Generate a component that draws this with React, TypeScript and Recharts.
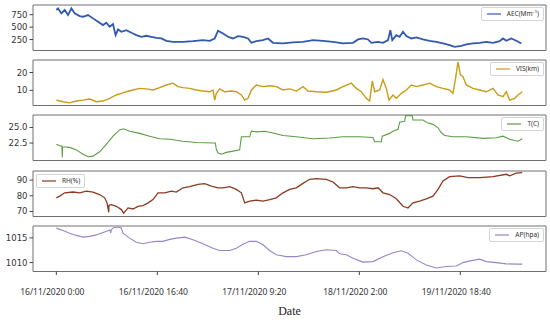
import React from "react";
import { LineChart, Line, XAxis, YAxis, Legend, ReferenceArea } from "recharts";

// x is the row index of the series (pandas style plot), ticks every 1000 rows
const DATE_TICKS = [0, 1000, 2000, 3000, 4000];
const DATE_LABELS = ["16/11/2020 0:00", "16/11/2020 16:40", "17/11/2020 9:20", "18/11/2020 2:00", "19/11/2020 18:40"];
const X_DOMAIN: [number, number] = [-231, 4848];

const AEC: [number, number][] = [
  [0, 844], [17, 877], [50, 776], [83, 844], [116, 743], [149, 877], [182, 776], [231, 723], [264, 709], [314, 743],
  [363, 676], [413, 608], [462, 541], [495, 588], [528, 508], [561, 561], [587, 340], [611, 454], [644, 407], [693, 440],
  [743, 387], [792, 340], [842, 306], [891, 326], [941, 306], [990, 286], [1040, 272], [1089, 225], [1155, 205], [1254, 205],
  [1353, 219], [1452, 239], [1518, 225], [1568, 272], [1601, 427], [1650, 373], [1700, 306], [1749, 272], [1799, 320], [1848, 306],
  [1898, 272], [1931, 185], [1980, 219], [2046, 239], [2096, 272], [2145, 185], [2244, 172], [2343, 192], [2442, 205], [2541, 239],
  [2640, 225], [2739, 205], [2838, 172], [2937, 185], [2987, 252], [3036, 272], [3086, 252], [3119, 185], [3185, 205], [3234, 185],
  [3284, 239], [3307, 440], [3326, 239], [3366, 340], [3399, 306], [3432, 407], [3465, 320], [3515, 272], [3564, 293], [3630, 252],
  [3696, 225], [3762, 205], [3828, 172], [3894, 138], [3944, 104], [4010, 125], [4059, 151], [4125, 172], [4191, 185], [4257, 205],
  [4323, 185], [4389, 219], [4422, 272], [4455, 225], [4505, 272], [4554, 225], [4604, 172],
];

const VIS: [number, number][] = [
  [0, 4.5], [66, 3.6], [132, 3.0], [198, 4.0], [264, 4.5], [330, 5.1], [396, 3.6], [462, 4.0], [528, 5.5], [594, 7.4],
  [644, 8.3], [693, 9.2], [759, 10.2], [825, 11.1], [891, 10.8], [957, 10.2], [1023, 11.5], [1089, 13.0], [1155, 14.0], [1205, 12.1],
  [1254, 11.5], [1320, 11.1], [1386, 10.2], [1452, 9.6], [1518, 9.2], [1551, 10.2], [1568, 4.5], [1584, 8.3], [1617, 10.8], [1667, 9.2],
  [1733, 9.6], [1782, 9.2], [1832, 7.4], [1865, 4.5], [1898, 5.5], [1931, 10.2], [1980, 13.0], [2046, 12.1], [2112, 12.6], [2178, 12.1],
  [2244, 10.2], [2310, 10.8], [2376, 9.6], [2442, 12.1], [2492, 9.6], [2574, 9.2], [2673, 8.9], [2772, 10.2], [2838, 12.1], [2921, 14.0],
  [2970, 11.1], [3020, 9.2], [3069, 5.5], [3102, 4.0], [3128, 15.2], [3152, 9.2], [3201, 10.2], [3234, 16.0], [3267, 11.1], [3293, 4.5],
  [3333, 7.4], [3366, 5.5], [3416, 8.3], [3465, 10.2], [3515, 13.0], [3564, 12.1], [3630, 13.0], [3696, 14.0], [3762, 12.1], [3828, 11.1],
  [3894, 10.2], [3927, 8.3], [3953, 16.8], [3977, 26.0], [4000, 18.7], [4026, 17.7], [4059, 13.0], [4125, 11.1], [4191, 10.2], [4257, 9.2],
  [4323, 11.1], [4373, 7.4], [4422, 6.4], [4455, 9.2], [4488, 4.5], [4538, 5.5], [4571, 7.4], [4613, 9.2],
];

const TEMP: [number, number][] = [
  [0, 22.3], [50, 22.0], [56, 22.0], [59, 20.2], [62, 21.9], [132, 21.8], [198, 21.4], [264, 20.7], [314, 20.3], [363, 20.4],
  [429, 21.1], [495, 22.3], [561, 23.6], [627, 24.6], [667, 24.8], [726, 24.4], [825, 24.05], [924, 23.6], [1023, 23.2], [1122, 23.1],
  [1254, 22.8], [1386, 22.6], [1551, 22.5], [1574, 22.5], [1584, 21.5], [1601, 20.9], [1634, 20.7], [1683, 21.0], [1749, 21.2], [1815, 21.4],
  [1832, 23.5], [1914, 23.5], [1931, 24.4], [1980, 24.3], [2063, 24.4], [2145, 24.1], [2244, 23.7], [2376, 23.5], [2541, 23.2], [2706, 23.3],
  [2838, 23.5], [3003, 23.5], [3135, 23.4], [3152, 22.7], [3218, 22.7], [3227, 23.6], [3300, 24.05], [3333, 24.4], [3383, 24.7], [3399, 25.85],
  [3449, 26.0], [3458, 26.9], [3524, 26.9], [3531, 26.2], [3630, 26.2], [3680, 25.7], [3729, 25.5], [3779, 24.95], [3812, 24.15], [3845, 23.7],
  [3927, 23.5], [4059, 23.5], [4224, 23.25], [4356, 23.35], [4422, 23.6], [4488, 23.1], [4571, 22.8], [4613, 23.2],
];

const RH: [number, number][] = [
  [0, 78.7], [33, 79.8], [83, 81.9], [165, 82.4], [231, 81.9], [297, 83.0], [363, 82.4], [429, 80.8], [479, 78.7], [502, 75.5],
  [519, 69.5], [521, 74.0], [545, 74.4], [594, 73.3], [644, 71.2], [667, 69.0], [710, 72.3], [759, 71.6], [809, 73.3], [858, 73.8],
  [908, 75.5], [957, 77.6], [1007, 81.9], [1073, 81.9], [1139, 83.0], [1188, 82.4], [1254, 85.1], [1320, 85.8], [1403, 87.3], [1469, 87.7],
  [1535, 86.2], [1601, 85.1], [1650, 85.1], [1716, 85.8], [1782, 84.1], [1832, 81.9], [1865, 75.5], [1914, 76.6], [1980, 77.2], [2046, 76.6],
  [2112, 77.6], [2178, 78.7], [2244, 81.9], [2310, 84.1], [2376, 85.1], [2442, 87.9], [2508, 90.5], [2574, 91.0], [2673, 90.5], [2739, 88.8],
  [2805, 85.1], [2871, 85.1], [2937, 85.8], [3003, 85.1], [3069, 85.1], [3135, 84.5], [3185, 85.1], [3234, 81.9], [3300, 80.8], [3366, 78.1],
  [3432, 73.3], [3482, 72.2], [3531, 75.5], [3597, 76.6], [3663, 78.1], [3729, 79.8], [3779, 84.1], [3828, 89.4], [3894, 92.2], [3993, 92.7],
  [4076, 91.6], [4191, 91.6], [4323, 92.2], [4455, 93.7], [4488, 92.7], [4554, 94.4], [4613, 94.8],
];

const AP: [number, number][] = [
  [0, 1016.97], [66, 1016.5], [132, 1015.95], [198, 1015.5], [264, 1015.15], [330, 1015.3], [396, 1015.6], [462, 1016.1], [531, 1016.6], [538, 1016.0],
  [545, 1016.6], [561, 1017.0], [611, 1017.2], [644, 1017.0], [660, 1015.95], [726, 1014.95], [792, 1014.1], [858, 1013.8], [924, 1014.1], [990, 1014.3],
  [1056, 1014.3], [1122, 1014.7], [1188, 1014.95], [1271, 1015.15], [1353, 1014.6], [1452, 1013.8], [1551, 1012.9], [1617, 1012.45], [1716, 1012.45], [1782, 1012.9],
  [1848, 1013.7], [1914, 1014.3], [1980, 1014.3], [2046, 1013.6], [2112, 1012.45], [2178, 1011.6], [2277, 1011.2], [2376, 1011.2], [2475, 1011.6], [2574, 1012.25],
  [2673, 1012.6], [2772, 1012.45], [2805, 1011.8], [2871, 1011.6], [2937, 1010.9], [3036, 1010.1], [3135, 1010.2], [3234, 1011.2], [3333, 1012.0], [3416, 1012.4],
  [3482, 1011.9], [3564, 1010.55], [3663, 1009.5], [3762, 1008.9], [3861, 1009.2], [3960, 1009.3], [4026, 1010.0], [4109, 1010.4], [4191, 1010.7], [4257, 1010.2],
  [4356, 1010.0], [4455, 1009.75], [4554, 1009.7], [4613, 1009.7],
];

const PLOT_H = 45.5;
const FONT = "'DejaVu Sans', sans-serif";

const PANELS = [
  { name: "AEC(Mm⁻¹)", rows: AEC, color: "#3159b0", width: 1.8, domain: [30, 945], ticks: [250, 500, 750], top: 5, legendLeft: false, fmt: (v: number) => `${v}` },
  { name: "VIS(km)", rows: VIS, color: "#c99c16", width: 1.4, domain: [1.5, 27], ticks: [10, 20], top: 60, legendLeft: false, fmt: (v: number) => `${v}` },
  { name: "T(C)", rows: TEMP, color: "#5a9d45", width: 1.1, domain: [19.7, 27.0], ticks: [22.5, 25.0], top: 115, legendLeft: false, fmt: (v: number) => v.toFixed(1) },
  { name: "RH(%)", rows: RH, color: "#8c3b20", width: 1.3, domain: [66.8, 95.8], ticks: [70, 80, 90], top: 170.5, legendLeft: true, fmt: (v: number) => `${v}` },
  { name: "AP(hpa)", rows: AP, color: "#9884cc", width: 1.1, domain: [1008.2, 1017.4], ticks: [1010, 1015], top: 225.5, legendLeft: false, fmt: (v: number) => `${v}` },
];

function LegendBox({ name, color }: { name: string; color: string }) {
  return (
    <div
      style={{
        display: "flex",
        alignItems: "center",
        border: "1px solid #d4d4d4",
        borderRadius: 2,
        background: "rgba(255,255,255,0.9)",
        padding: "2px 4px 2px 5px",
        fontFamily: "'Noto Sans', sans-serif",
        fontSize: 6.5,
        lineHeight: "8px",
        color: "#333",
        whiteSpace: "nowrap",
      }}
    >
      <svg width={14} height={4} style={{ marginRight: 6 }}>
        <line x1={0} y1={2} x2={14} y2={2} stroke={color} strokeWidth={1.2} />
      </svg>
      {name}
    </div>
  );
}

function DateTick({ x, y, payload }: any) {
  return (
    <text x={x - 4} y={y} dy="0.71em" textAnchor="middle" fontSize={8.5} fontFamily="'Noto Sans', sans-serif" fill="#333">
      {DATE_LABELS[DATE_TICKS.indexOf(payload.value)]}
    </text>
  );
}

function Panel({ p, last }: { p: (typeof PANELS)[number]; last: boolean }) {
  const axisH = last ? 323 - (p.top - 5) - 5 - PLOT_H : 8;
  const data = p.rows.map(([i, v]) => ({ i, v }));
  return (
    <div style={{ position: "absolute", left: 0, top: p.top - 5 }}>
      <LineChart width={550} height={5 + PLOT_H + axisH} margin={{ top: 5, right: 4, left: 0, bottom: 0 }}>
        <XAxis
          type="number"
          dataKey="i"
          domain={X_DOMAIN}
          ticks={DATE_TICKS}
          interval={0}
          allowDataOverflow
          height={axisH}
          axisLine={false}
          tickSize={3.5}
          tickMargin={14}
          tickLine={{ stroke: "#444" }}
          tick={last ? <DateTick /> : false}
          label={
            last
              ? { value: "Date", position: "insideBottom", offset: 9, fontFamily: "'Liberation Serif', serif", fontSize: 12, fill: "#222" }
              : undefined
          }
        />
        <YAxis
          type="number"
          domain={p.domain}
          ticks={p.ticks}
          interval={0}
          allowDataOverflow
          width={33}
          axisLine={false}
          tickSize={3.5}
          tickMargin={2}
          tickLine={{ stroke: "#444" }}
          tick={{ fontSize: 8.5, fill: "#333", fontFamily: FONT }}
          tickFormatter={p.fmt}
        />
        <Line data={data} dataKey="v" type="linear" stroke={p.color} strokeWidth={p.width} dot={false} isAnimationActive={false} />
        <ReferenceArea
          x1={X_DOMAIN[0]}
          x2={X_DOMAIN[1]}
          y1={p.domain[0]}
          y2={p.domain[1]}
          fill="none"
          fillOpacity={0}
          stroke="#707070"
          strokeWidth={1}
          ifOverflow="visible"
        />
        <Legend
          layout="vertical"
          align="center"
          verticalAlign="middle"
          content={() => <LegendBox name={p.name} color={p.color} />}
          wrapperStyle={
            p.legendLeft
              ? { top: 8, left: 36, right: "auto", width: "auto", height: "auto" }
              : { top: 7, right: 6, left: "auto", width: "auto", height: "auto" }
          }
        />
      </LineChart>
    </div>
  );
}

export default function App() {
  return (
    <div style={{ position: "absolute", left: 0, top: 0, width: 550, height: 323, background: "#fff", overflow: "hidden" }}>
      {PANELS.map((p, k) => (
        <Panel key={p.name} p={p} last={k === PANELS.length - 1} />
      ))}
    </div>
  );
}
